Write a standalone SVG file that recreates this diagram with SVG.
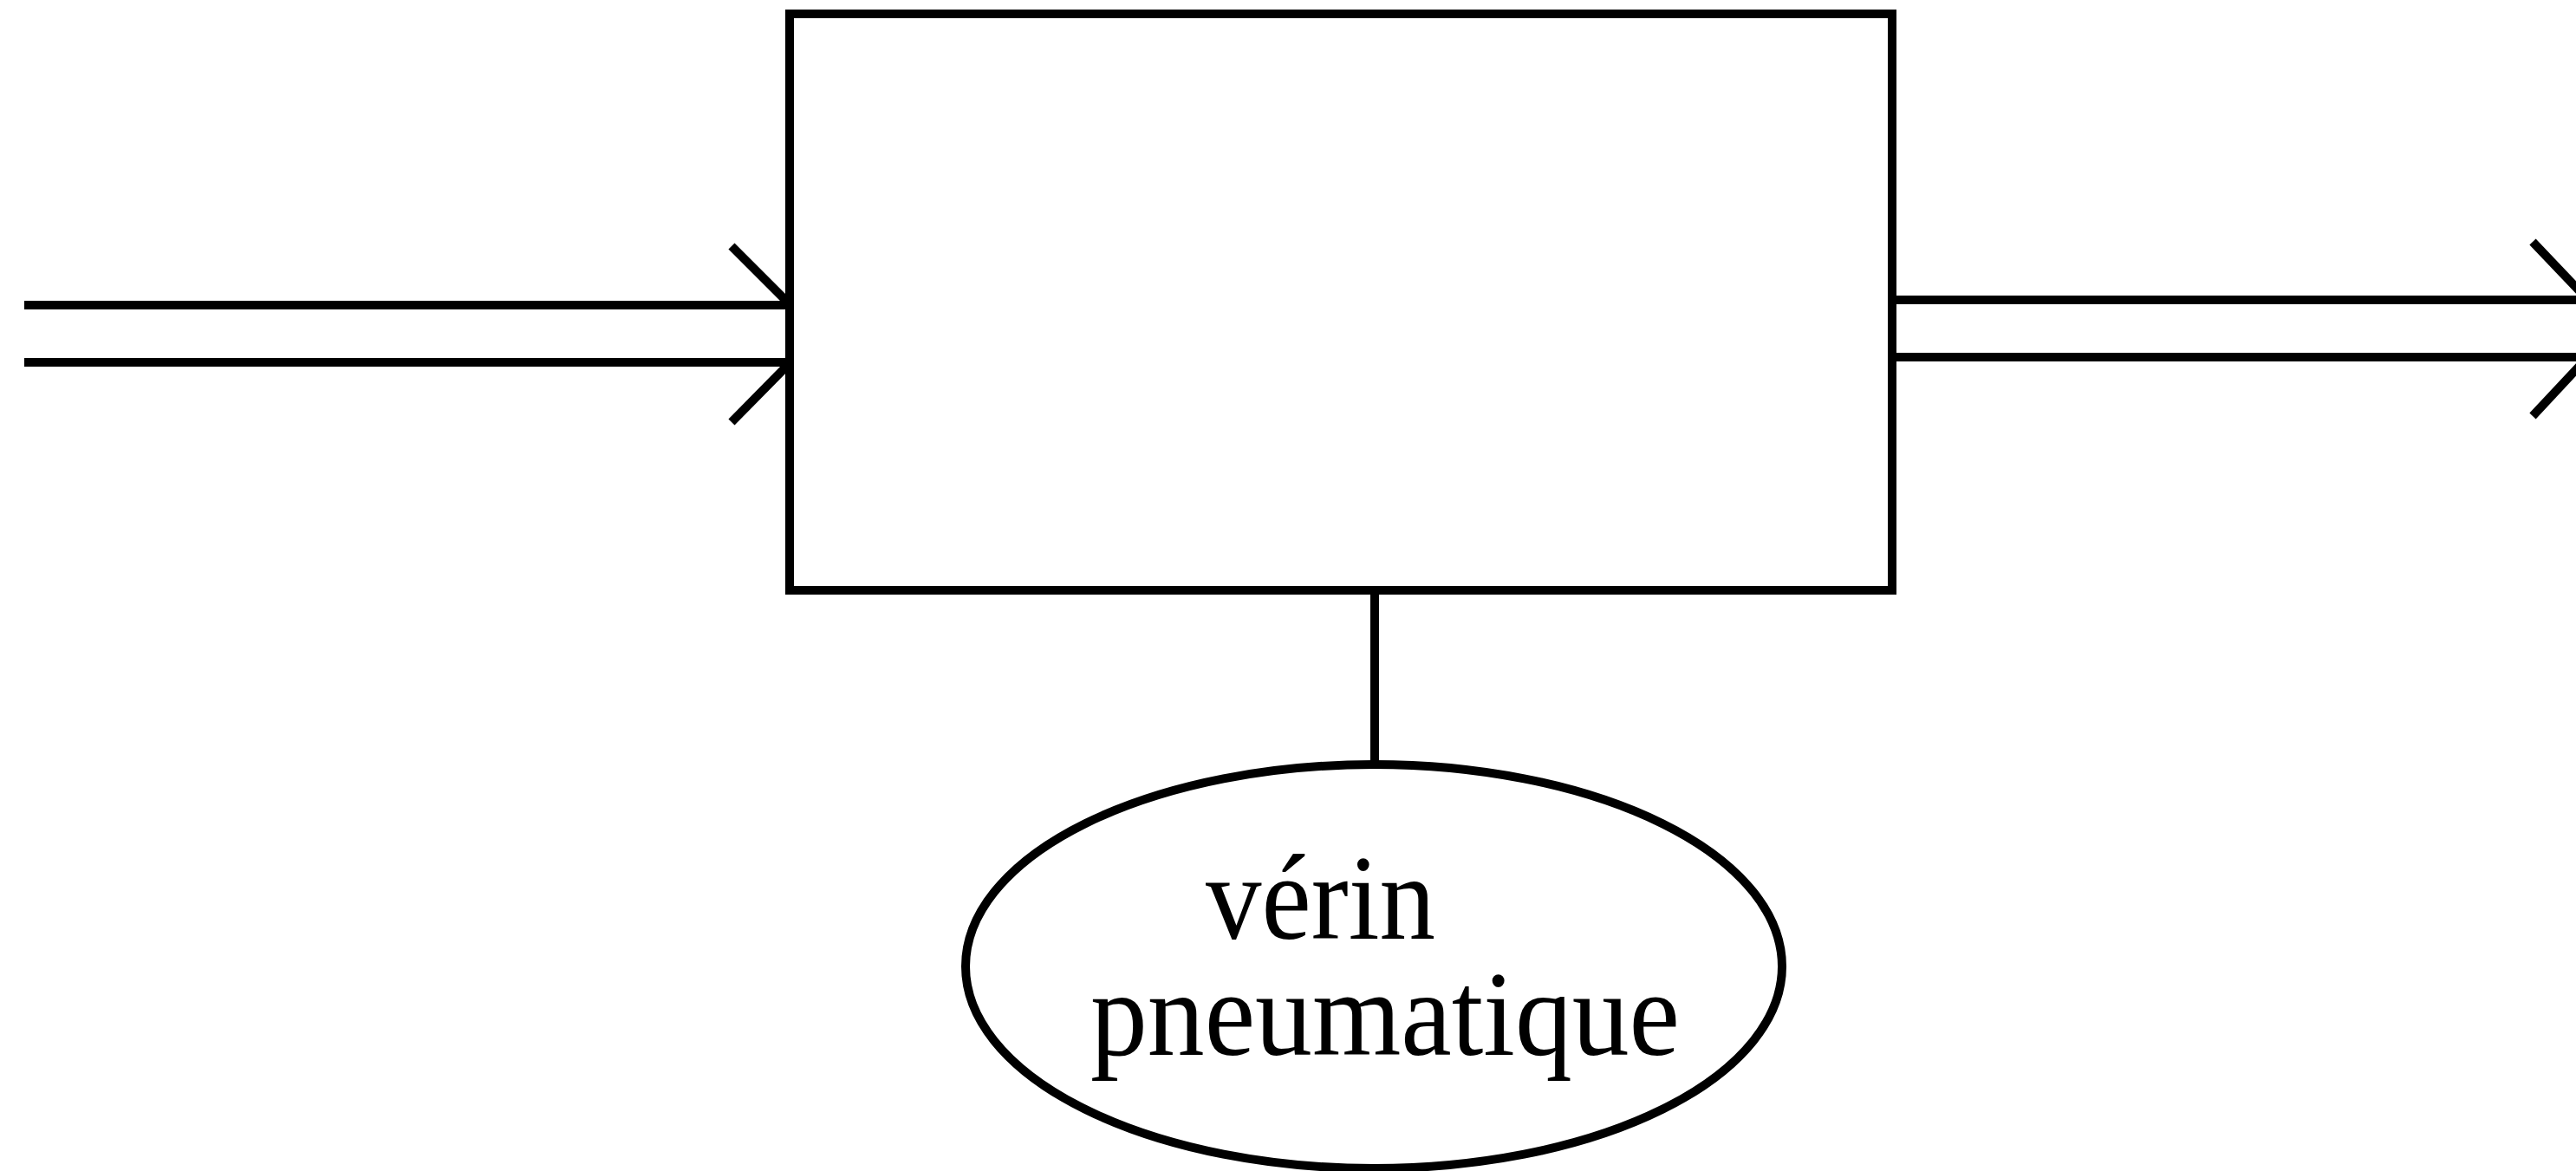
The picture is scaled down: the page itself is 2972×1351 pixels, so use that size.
<svg xmlns="http://www.w3.org/2000/svg" width="2972" height="1351" viewBox="0 0 2972 1351">
<style>
.ln{stroke:#000;stroke-width:10;fill:none;stroke-linecap:butt}
.shape{stroke:#000;stroke-width:10;fill:#fff}
.lbl{font-family:"Liberation Serif","Times New Roman",serif;font-size:140px;fill:#000}
</style>
<rect width="2972" height="1351" fill="#fff"/>
<g id="connectors">
<line class="ln" x1="28" y1="352" x2="912" y2="352"/>
<line class="ln" x1="28" y1="418" x2="912" y2="418"/>
<line class="ln" stroke-linecap="round" x1="844" y1="284" x2="910" y2="350"/>
<line class="ln" stroke-linecap="round" x1="844" y1="487" x2="910" y2="420"/>
<line class="ln" x1="2183" y1="346" x2="2972" y2="346"/>
<line class="ln" x1="2183" y1="412" x2="2972" y2="412"/>
<line class="ln" stroke-linecap="round" x1="2922" y1="279" x2="2980" y2="340"/>
<line class="ln" stroke-linecap="round" x1="2922" y1="480" x2="2980" y2="418"/>
<line class="ln" x1="1586" y1="681" x2="1586" y2="882"/>
</g>
<g id="box">
<rect class="shape" x="911" y="16" width="1272" height="665"/>
</g>
<g id="verin">
<ellipse class="shape" cx="1585" cy="1115" rx="471" ry="233"/>
<text class="lbl" x="1391" y="1083" textLength="265" lengthAdjust="spacingAndGlyphs">vérin</text>
<text class="lbl" x="1258" y="1217" textLength="680" lengthAdjust="spacingAndGlyphs">pneumatique</text>
</g>
</svg>
